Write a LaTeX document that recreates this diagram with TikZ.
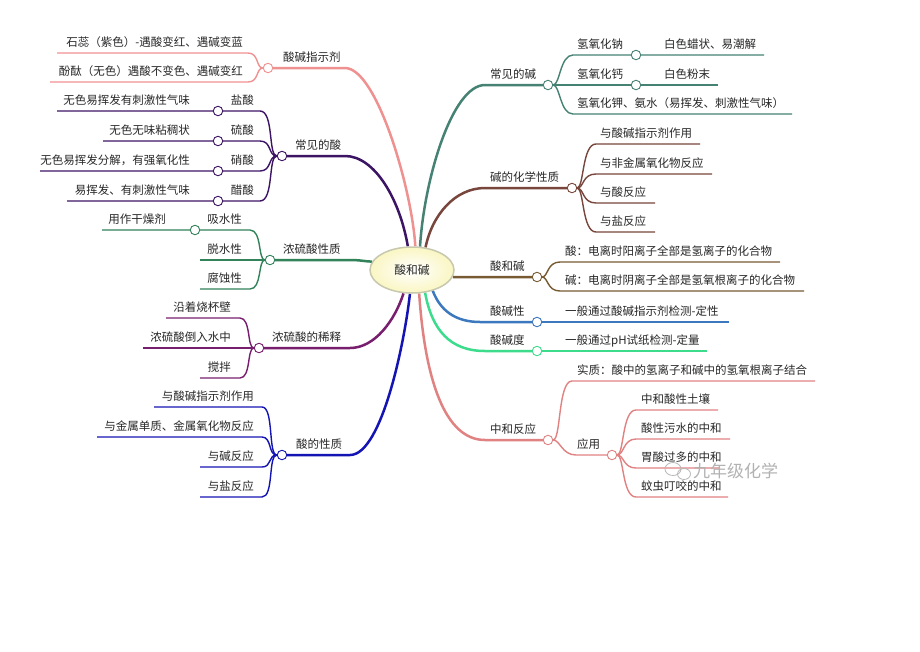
\documentclass[tikz,border=0pt]{standalone}
\usepackage{fontspec}
\newfontfamily\cjk{Noto Sans CJK SC}
\usetikzlibrary{shapes.geometric}
\pgfdeclarelayer{bg}
\pgfsetlayers{bg,main}
\definecolor{cPink}{RGB}{240,145,145}
\definecolor{cPurple}{RGB}{60,20,100}
\definecolor{cGreen}{RGB}{50,130,90}
\definecolor{cMag}{RGB}{120,30,110}
\definecolor{cBlue}{RGB}{20,20,180}
\definecolor{cTeal}{RGB}{70,130,115}
\definecolor{cBrown}{RGB}{120,70,60}
\definecolor{cGold}{RGB}{120,90,50}
\definecolor{cSky}{RGB}{60,120,190}
\definecolor{cMint}{RGB}{60,220,140}
\definecolor{cRose}{RGB}{225,130,130}
\definecolor{cText}{RGB}{40,40,40}
\begin{document}
\begin{tikzpicture}[x=1pt,y=-1pt,
  hub/.style={circle,draw=#1,fill=white,line width=0.9pt,inner sep=0pt,minimum size=9.5pt},
  txt/.style={font=\cjk\fontsize{11.5}{13}\selectfont,text=cText,inner sep=0pt},
  lt/.style={txt,anchor=base east},
  rt/.style={txt,anchor=base west},
  sub/.style={draw=#1,line width=1.4pt},
  mainb/.style={draw=#1,line width=2.5pt}]
\useasboundingbox (0,0) rectangle (920,651);

% ---------- root ----------
\node[ellipse,draw={rgb,255:red,200;green,200;blue,175},line width=1.5pt,
  inner color=white,outer color={rgb,255:red,250;green,246;blue,195},
  minimum width=84pt,minimum height=46pt,font=\cjk\fontsize{11.8}{13}\selectfont,text=cText] (root) at (412,270) {酸和碱};

% ---------- hubs ----------
\node[hub=cPink]   (hzsj) at (268,68) {};
\node[hub=cPurple] (hcs)  at (282,156) {};
\node[hub=cPurple] (hys)  at (218,111) {};
\node[hub=cPurple] (hls)  at (218,141) {};
\node[hub=cPurple] (hxs)  at (218,171) {};
\node[hub=cPurple] (hcu)  at (218,201) {};
\node[hub=cGreen]  (hnl)  at (270,260) {};
\node[hub=cGreen]  (hxsx) at (195,230) {};
\node[hub=cMag]    (hxsh) at (259,348) {};
\node[hub=cBlue]   (hsx)  at (282,455) {};
\node[hub=cTeal]   (hcj)  at (548,85) {};
\node[hub=cTeal]   (hna)  at (636,55) {};
\node[hub=cTeal]   (hca)  at (636,85) {};
\node[hub=cBrown]  (hjh)  at (572,188) {};
\node[hub=cGold]   (hsh)  at (537,277) {};
\node[hub=cSky]    (hsjx) at (537,322) {};
\node[hub=cMint]   (hsjd) at (537,351) {};
\node[hub=cRose]   (hzh)  at (548,440) {};
\node[hub=cRose]   (hyy)  at (612,455) {};

% ---------- line ends ----------
\coordinate (e1) at (57,53);   \coordinate (e2) at (50,82);
\coordinate (e3) at (57,111);  \coordinate (e4) at (103,141);
\coordinate (e5) at (40,171);  \coordinate (e6) at (67,201);
\coordinate (e7) at (102,230); \coordinate (e8) at (200,260);
\coordinate (e9) at (200,289);
\coordinate (e10) at (166,318); \coordinate (e11) at (143,348);
\coordinate (e12) at (200,378);
\coordinate (e13) at (154,407); \coordinate (e14) at (97,437);
\coordinate (e15) at (200,467); \coordinate (e16) at (200,497);
\coordinate (f1) at (764,55);  \coordinate (f2) at (718,85);
\coordinate (f3) at (792,114);
\coordinate (f4) at (700,144); \coordinate (f5) at (712,174);
\coordinate (f6) at (655,203); \coordinate (f7) at (655,232);
\coordinate (f8) at (780,262); \coordinate (f9) at (804,291);
\coordinate (f10) at (729,322); \coordinate (f11) at (707,351);
\coordinate (f12) at (815,381);
\coordinate (f13) at (718,410); \coordinate (f14) at (730,439);
\coordinate (f15) at (720,468); \coordinate (f16) at (728,497);

\begin{pgfonlayer}{bg}
\fill[white] (0,0) rectangle (920,651);
% ---------- main branches ----------
\draw[mainb=cPink]   (hzsj) -- (345,68) .. controls (377,68) and (412,190) .. (root.82);
\draw[mainb=cPurple] (hcs) -- (345,156) .. controls (375,156) and (400,200) .. (root.100);
\draw[mainb=cGreen]  (hnl) -- (350,260) .. controls (362,260) and (368,262) .. (root.168);
\draw[mainb=cMag]    (hxsh) -- (350,348) .. controls (375,348) and (395,320) .. (root.250);
\draw[mainb=cBlue]   (hsx) -- (350,455) .. controls (382,455) and (405,340) .. (root.265);
\draw[mainb=cTeal]   (hcj) -- (485,85) .. controls (452,85) and (424,180) .. (root.71);
\draw[mainb=cBrown]  (hjh) -- (485,188) .. controls (455,188) and (432,215) .. (root.59);
\draw[mainb=cGold]   (hsh) -- (root.350);
\draw[mainb=cSky]    (hsjx) -- (480,322) .. controls (455,322) and (440,310) .. (root.315);
\draw[mainb=cMint]   (hsjd) -- (485,351) .. controls (450,351) and (432,330) .. (root.300);
\draw[mainb=cRose]   (hzh) -- (485,440) .. controls (445,440) and (425,380) .. (root.287);

% ---------- left children ----------
\draw[sub=cPink] (hzsj) .. controls (256,68) and (259,53) .. (248,53) -- (e1);
\draw[sub=cPink] (hzsj) .. controls (256,68) and (259,82) .. (248,82) -- (e2);

\draw[sub=cPurple] (hcs) .. controls (268,156) and (274,111) .. (260,111) -- (hys) -- (e3);
\draw[sub=cPurple] (hcs) .. controls (268,156) and (272,141) .. (260,141) -- (hls) -- (e4);
\draw[sub=cPurple] (hcs) .. controls (268,156) and (272,171) .. (260,171) -- (hxs) -- (e5);
\draw[sub=cPurple] (hcs) .. controls (268,156) and (274,201) .. (260,201) -- (hcu) -- (e6);

\draw[sub=cGreen] (hnl) .. controls (258,260) and (262,230) .. (250,230) -- (hxsx) -- (e7);
\draw[sub=cGreen] (hnl) -- (e8);
\draw[sub=cGreen] (hnl) .. controls (258,260) and (262,289) .. (250,289) -- (e9);

\draw[sub=cMag] (hxsh) .. controls (247,348) and (251,318) .. (240,318) -- (e10);
\draw[sub=cMag] (hxsh) -- (e11);
\draw[sub=cMag] (hxsh) .. controls (247,348) and (251,378) .. (240,378) -- (e12);

\draw[sub=cBlue] (hsx) .. controls (268,455) and (274,407) .. (262,407) -- (e13);
\draw[sub=cBlue] (hsx) .. controls (268,455) and (272,437) .. (262,437) -- (e14);
\draw[sub=cBlue] (hsx) .. controls (268,455) and (272,467) .. (262,467) -- (e15);
\draw[sub=cBlue] (hsx) .. controls (268,455) and (274,497) .. (262,497) -- (e16);

% ---------- right children ----------
\draw[sub=cTeal] (hcj) .. controls (560,85) and (560,55) .. (573,55) -- (hna) -- (f1);
\draw[sub=cTeal] (hcj) -- (hca) -- (f2);
\draw[sub=cTeal] (hcj) .. controls (560,85) and (560,114) .. (573,114) -- (f3);

\draw[sub=cBrown] (hjh) .. controls (584,188) and (582,144) .. (596,144) -- (f4);
\draw[sub=cBrown] (hjh) .. controls (584,188) and (582,174) .. (596,174) -- (f5);
\draw[sub=cBrown] (hjh) .. controls (584,188) and (582,203) .. (596,203) -- (f6);
\draw[sub=cBrown] (hjh) .. controls (584,188) and (582,232) .. (596,232) -- (f7);

\draw[sub=cGold] (hsh) .. controls (548,277) and (547,262) .. (560,262) -- (f8);
\draw[sub=cGold] (hsh) .. controls (548,277) and (547,291) .. (560,291) -- (f9);

\draw[sub=cSky]  (hsjx) -- (f10);
\draw[sub=cMint] (hsjd) -- (f11);

\draw[sub=cRose] (hzh) .. controls (561,440) and (558,381) .. (572,381) -- (f12);
\draw[sub=cRose] (hzh) .. controls (560,440) and (562,455) .. (576,455) -- (hyy);
\draw[sub=cRose] (hyy) .. controls (624,455) and (622,410) .. (636,410) -- (f13);
\draw[sub=cRose] (hyy) .. controls (624,455) and (623,439) .. (636,439) -- (f14);
\draw[sub=cRose] (hyy) .. controls (624,455) and (623,468) .. (636,468) -- (f15);
\draw[sub=cRose] (hyy) .. controls (624,455) and (622,497) .. (636,497) -- (f16);
\end{pgfonlayer}

% ---------- left texts ----------
\node[rt] (tzsj) at (283,61.5) {酸碱指示剂};
\node[lt] (tsr)  at (243,46.5) {石蕊（紫色）-遇酸变红、遇碱变蓝};
\node[lt] (tft)  at (243,75.5) {酚酞（无色）遇酸不变色、遇碱变红};
\node[rt] (tcs)  at (295,149.5) {常见的酸};
\node[lt] (tys)  at (254,104.5) {盐酸};
\node[lt] (tys2) at (190,104.5) {无色易挥发有刺激性气味};
\node[lt] (tls)  at (254,134.5) {硫酸};
\node[lt] (tls2) at (190,134.5) {无色无味粘稠状};
\node[lt] (txs)  at (254,164.5) {硝酸};
\node[lt] (txs2) at (190,164.5) {无色易挥发分解，有强氧化性};
\node[lt] (tcu)  at (254,194.5) {醋酸};
\node[lt] (tcu2) at (190,194.5) {易挥发、有刺激性气味};
\node[rt] (tnl)  at (283,253.5) {浓硫酸性质};
\node[lt] (txsx) at (242,223.5) {吸水性};
\node[lt] (tgzj) at (166,223.5) {用作干燥剂};
\node[lt] (ttsx) at (242,253.5) {脱水性};
\node[lt] (tfsx) at (242,282.5) {腐蚀性};
\node[rt] (txsh) at (272,341.5) {浓硫酸的稀释};
\node[lt] (tyz)  at (231,311.5) {沿着烧杯壁};
\node[lt] (tdr)  at (231,341.5) {浓硫酸倒入水中};
\node[lt] (tjb)  at (231,371.5) {搅拌};
\node[rt] (tsx)  at (296,448.5) {酸的性质};
\node[lt] (tsx1) at (254,400.5) {与酸碱指示剂作用};
\node[lt] (tsx2) at (254,430.5) {与金属单质、金属氧化物反应};
\node[lt] (tsx3) at (254,460.5) {与碱反应};
\node[lt] (tsx4) at (254,490.5) {与盐反应};

% ---------- right texts ----------
\node[rt] (tcj)  at (490,78.5) {常见的碱};
\node[rt] (tna)  at (577,48.5) {氢氧化钠};
\node[rt] (tna2) at (664,48.5) {白色蜡状、易潮解};
\node[rt] (tca)  at (577,78.5) {氢氧化钙};
\node[rt] (tca2) at (664,78.5) {白色粉末};
\node[rt] (tk)   at (577,107.5) {氢氧化钾、氨水（易挥发、刺激性气味）};
\node[rt] (tjh)  at (490,181.5) {碱的化学性质};
\node[rt] (tjh1) at (600,137.5) {与酸碱指示剂作用};
\node[rt] (tjh2) at (600,167.5) {与非金属氧化物反应};
\node[rt] (tjh3) at (600,196.5) {与酸反应};
\node[rt] (tjh4) at (600,225.5) {与盐反应};
\node[rt] (tsh)  at (490,270.5) {酸和碱};
\node[rt] (tsh1) at (565,255.5) {酸：电离时阳离子全部是氢离子的化合物};
\node[rt] (tsh2) at (565,284.5) {碱：电离时阴离子全部是氢氧根离子的化合物};
\node[rt] (tsjx) at (490,315.5) {酸碱性};
\node[rt] (tsjx1) at (565,315.5) {一般通过酸碱指示剂检测-定性};
\node[rt] (tsjd) at (490,344.5) {酸碱度};
\node[rt] (tsjd1) at (565,344.5) {一般通过pH试纸检测-定量};
\node[rt] (tzh)  at (490,433.5) {中和反应};
\node[rt] (tsz)  at (577,374.5) {实质：酸中的氢离子和碱中的氢氧根离子结合};
\node[rt] (tyy)  at (577,448.5) {应用};
\node[rt] (tyy1) at (641,403.5) {中和酸性土壤};
\node[rt] (tyy2) at (641,432.5) {酸性污水的中和};
\node[rt] (tyy3) at (641,461.5) {胃酸过多的中和};
\node[rt] (tyy4) at (641,490.5) {蚊虫叮咬的中和};

% ---------- watermark ----------
\node[font=\cjk\fontsize{17}{19}\selectfont,text=black!30,inner sep=0pt,anchor=west] (wm) at (693,471) {九年级化学};
\draw[black!28,line width=0.8pt] (673,469) ellipse (8pt and 6.5pt);
\draw[black!28,line width=0.8pt] (684,474) ellipse (6.5pt and 5.5pt);
\end{tikzpicture}
\end{document}
